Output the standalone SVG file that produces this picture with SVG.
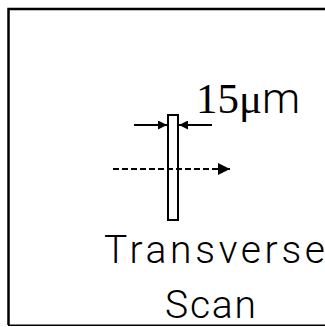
<svg xmlns="http://www.w3.org/2000/svg" width="325" height="327" viewBox="0 0 325 327">
  <defs>
    <marker id="head" viewBox="0 0 10 10" refX="10" refY="5" markerWidth="9" markerHeight="9" markerUnits="userSpaceOnUse" orient="auto">
      <path d="M0,0 L10,5 L0,10 Z" fill="#000"/>
    </marker>
    <marker id="headBig" viewBox="0 0 12 12" refX="12" refY="6" markerWidth="12" markerHeight="12" markerUnits="userSpaceOnUse" orient="auto">
      <path d="M0,0 L12,6 L0,12 Z" fill="#000"/>
    </marker>
  </defs>
  <style>
    .line { stroke: #000; fill: none; }
    .sans { font-family: "Liberation Sans", Arial, sans-serif; fill: #000; }
    .thin { font-family: Roboto, "Liberation Sans", Arial, sans-serif; font-weight: 300; fill: #000; }
    .serif { font-family: "Liberation Serif", "Times New Roman", serif; fill: #000; }
  </style>
  <rect width="325" height="327" fill="#fff"/>

  <!-- outer frame (open on the right) -->
  <g id="frame">
    <path class="line" stroke-width="2.5" d="M325,9 H8.5 V325"/>
    <path class="line" stroke-width="1.5" d="M8,325.2 H325"/>
  </g>

  <!-- slit -->
  <g id="slit">
    <rect x="168" y="115" width="10" height="105" fill="#fff" stroke="#000" stroke-width="2"/>
  </g>

  <!-- dimension arrows and scan direction -->
  <g id="connectors">
    <line class="line" stroke-width="2" x1="134" y1="125" x2="167" y2="125" marker-end="url(#head)"/>
    <line class="line" stroke-width="2" x1="212" y1="125" x2="179" y2="125" marker-end="url(#head)"/>
    <line class="line" stroke-width="2" x1="113" y1="169" x2="219" y2="169" stroke-dasharray="6,3"/>
    <line class="line" stroke-width="2" x1="214" y1="169" x2="230" y2="169" marker-end="url(#headBig)"/>
  </g>

  <!-- labels -->
  <g id="label-width">
    <text x="196" y="113" font-size="43"><tspan class="serif">15μ</tspan><tspan class="thin">m</tspan></text>
  </g>
  <g id="label-scan">
    <text class="thin" x="104" y="263" font-size="39" textLength="221" lengthAdjust="spacing">Transverse</text>
    <text class="thin" x="165" y="318" font-size="39" textLength="91" lengthAdjust="spacing">Scan</text>
  </g>
</svg>
